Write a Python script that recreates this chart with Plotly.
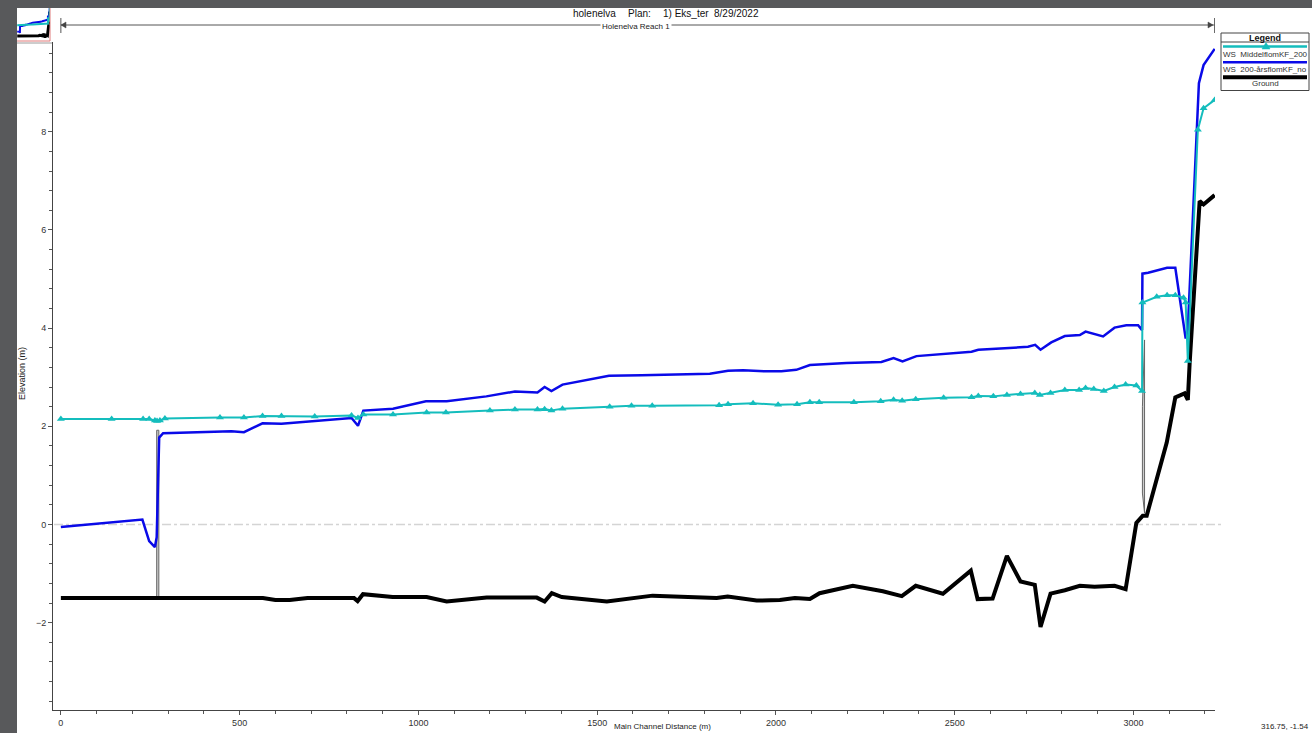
import plotly.graph_objects as go

W, H = 1312, 733


def px(x):
    return x / W


def py(y):
    return 1 - y / H


# ---------------- data ----------------
ws_mid_x = [0, 142, 230, 247, 263, 269, 277, 291, 445, 512, 564, 617, 710, 813, 831, 846,
            929, 1023, 1077, 1200, 1270, 1333, 1353, 1372, 1403, 1535, 1596, 1654, 1841,
            1866, 1936, 2006, 2059, 2095, 2121, 2218, 2293, 2329, 2353, 2391, 2469, 2547,
            2566, 2608, 2646, 2684, 2724, 2738, 2768, 2808, 2848, 2866, 2889, 2917, 2947,
            2978, 3008, 3024, 3025, 3065, 3094, 3117, 3140, 3146, 3152, 3180, 3196, 3227]
ws_mid_y = [2.15, 2.15, 2.15, 2.15, 2.12, 2.11, 2.12, 2.16, 2.18, 2.18, 2.21, 2.21, 2.20,
            2.22, 2.17, 2.24, 2.24, 2.28, 2.28, 2.32, 2.34, 2.34, 2.35, 2.32, 2.36, 2.40,
            2.42, 2.42, 2.43, 2.45, 2.47, 2.44, 2.45, 2.49, 2.49, 2.49, 2.51, 2.54, 2.52,
            2.55, 2.58, 2.59, 2.62, 2.61, 2.64, 2.66, 2.68, 2.64, 2.68, 2.74, 2.74, 2.78,
            2.76, 2.72, 2.80, 2.85, 2.83, 2.72, 4.52, 4.64, 4.67, 4.67, 4.62, 4.52, 3.33,
            8.04, 8.48, 8.65]

ws_200_x = [0, 228, 247, 263, 268, 275, 286, 477, 512, 564, 617, 813, 831, 846, 929, 1021,
            1079, 1190, 1270, 1333, 1353, 1372, 1403, 1533, 1624, 1815, 1866, 1908, 1973,
            2015, 2057, 2095, 2197, 2295, 2329, 2354, 2393, 2467, 2547, 2566, 2645, 2705,
            2725, 2740, 2770, 2808, 2850, 2866, 2915, 2947, 2980, 3013, 3024, 3025, 3041,
            3073, 3094, 3117, 3146, 3152, 3183, 3196, 3227]
ws_200_y = [-0.05, 0.10, -0.34, -0.46, -0.26, 1.77, 1.86, 1.90, 1.88, 2.06, 2.05, 2.17,
            2.01, 2.32, 2.36, 2.51, 2.51, 2.61, 2.71, 2.69, 2.80, 2.72, 2.85, 3.03, 3.04,
            3.07, 3.13, 3.14, 3.12, 3.12, 3.15, 3.25, 3.29, 3.31, 3.39, 3.32, 3.43, 3.48,
            3.52, 3.56, 3.60, 3.62, 3.66, 3.56, 3.71, 3.84, 3.86, 3.93, 3.83, 4.01, 4.06,
            4.06, 3.96, 5.11, 5.13, 5.20, 5.23, 5.23, 3.79, 3.98, 8.99, 9.36, 9.69]

ground_x = [0, 565, 600, 640, 690, 780, 820, 830, 845, 928, 1023, 1079, 1191, 1331, 1353,
            1373, 1401, 1527, 1655, 1834, 1865, 1946, 2011, 2053, 2095, 2122, 2215, 2299,
            2352, 2391, 2467, 2545, 2564, 2606, 2646, 2684, 2724, 2740, 2768, 2808, 2850,
            2891, 2947, 2978, 3008, 3026, 3037, 3093, 3117, 3143, 3152, 3157, 3185, 3196,
            3227]
ground_y = [-1.50, -1.50, -1.54, -1.54, -1.50, -1.50, -1.50, -1.56, -1.42, -1.48, -1.48,
            -1.57, -1.49, -1.49, -1.57, -1.40, -1.48, -1.57, -1.45, -1.50, -1.47, -1.55,
            -1.54, -1.50, -1.52, -1.40, -1.25, -1.36, -1.46, -1.25, -1.41, -0.94, -1.52,
            -1.51, -0.64, -1.16, -1.23, -2.09, -1.41, -1.34, -1.25, -1.27, -1.25, -1.32,
            0.03, 0.18, 0.18, 1.67, 2.59, 2.67, 2.54, 3.27, 6.59, 6.52, 6.71]

# structures (bridge / culvert outlines)
struct1_x = [268, 274, 274, 268, 268]
struct1_y = [-1.50, -1.50, 1.92, 1.92, -1.50]
struct2_x = [3025, 3031, 3031, 3025, 3025]
struct2_y = [0.64, 0.23, 3.76, 2.40, 0.64]

x_ticks = [0, 500, 1000, 1500, 2000, 2500, 3000]
y_ticks = [-2, 0, 2, 4, 6, 8]

series_names = ["WS  MiddelflomKF_200", "WS  200-årsflomKF_no", "Ground"]
CYAN = "#14bdbd"
BLUE = "#0a0ae8"
BLACK = "#000000"

# ---------------- figure ----------------
fig = go.Figure()

for sx, sy in [(struct1_x, struct1_y), (struct2_x, struct2_y)]:
    fig.add_trace(go.Scatter(x=sx, y=sy, mode="lines", fill="toself",
                             fillcolor="rgba(170,170,170,0.6)",
                             line=dict(color="#666666", width=1),
                             showlegend=False, hoverinfo="skip"))

fig.add_trace(go.Scatter(x=ground_x, y=ground_y, mode="lines", name=series_names[2],
                         line=dict(color=BLACK, width=4), showlegend=False))
fig.add_trace(go.Scatter(x=ws_200_x, y=ws_200_y, mode="lines", name=series_names[1],
                         line=dict(color=BLUE, width=2.5), showlegend=False))
fig.add_trace(go.Scatter(x=ws_mid_x, y=ws_mid_y, mode="lines+markers", name=series_names[0],
                         line=dict(color=CYAN, width=2),
                         marker=dict(symbol="triangle-up", size=7, color=CYAN),
                         showlegend=False))

# thumbnail overview (top-left)
fig.add_trace(go.Scatter(x=ground_x, y=ground_y, mode="lines", xaxis="x2", yaxis="y2",
                         line=dict(color=BLACK, width=3), showlegend=False, hoverinfo="skip"))
fig.add_trace(go.Scatter(x=ws_200_x, y=ws_200_y, mode="lines", xaxis="x2", yaxis="y2",
                         line=dict(color=BLUE, width=2), showlegend=False, hoverinfo="skip"))
fig.add_trace(go.Scatter(x=ws_mid_x, y=ws_mid_y, mode="lines", xaxis="x2", yaxis="y2",
                         line=dict(color=CYAN, width=2), showlegend=False, hoverinfo="skip"))

tickfont = dict(family="Arial", size=9, color="#333333")

fig.update_layout(
    width=W, height=H,
    margin=dict(l=0, r=0, t=0, b=0),
    paper_bgcolor="white", plot_bgcolor="white",
    showlegend=False,
    xaxis=dict(domain=[px(53), px(1215)], range=[-22, 3228],
               tickvals=x_ticks, ticks="outside", ticklen=4, tickcolor="#555",
               minor=dict(dtick=100, tick0=0, ticks="outside", ticklen=3, tickcolor="#555"),
               showline=True, linecolor="#444", linewidth=1,
               showgrid=False, zeroline=False, tickfont=tickfont, anchor="y"),
    yaxis=dict(domain=[py(710), py(42)], range=[-3.78, 9.83],
               tickvals=y_ticks, ticks="outside", ticklen=4, tickcolor="#555",
               minor=dict(dtick=0.4, tick0=0, ticks="outside", ticklen=3, tickcolor="#555"),
               showline=True, linecolor="#444", linewidth=1,
               showgrid=False, zeroline=False, tickfont=tickfont, anchor="x"),
    xaxis2=dict(domain=[px(17), px(50)], range=[-22, 3228], visible=False,
                anchor="y2", fixedrange=True),
    yaxis2=dict(domain=[py(41), py(8)], range=[-3.2, 8.0], visible=False,
                anchor="x2", fixedrange=True),
)

shapes = []
# dark grey window frame strips
shapes.append(dict(type="rect", xref="paper", yref="paper", x0=0, x1=px(17), y0=0, y1=1,
                   fillcolor="#58595b", line=dict(width=0), layer="above"))
shapes.append(dict(type="rect", xref="paper", yref="paper", x0=0, x1=1, y0=py(8), y1=1,
                   fillcolor="#58595b", line=dict(width=0), layer="above"))
# thumbnail frame
shapes.append(dict(type="line", xref="paper", yref="paper", x0=px(17), x1=px(50),
                   y0=py(41), y1=py(41), line=dict(color="#e07a7a", width=1), layer="above"))
shapes.append(dict(type="line", xref="paper", yref="paper", x0=px(50), x1=px(50),
                   y0=py(41), y1=py(8), line=dict(color="#e07a7a", width=1), layer="above"))
shapes.append(dict(type="line", xref="paper", yref="paper", x0=px(17), x1=px(52),
                   y0=py(43), y1=py(43), line=dict(color="#9a9a9a", width=1), layer="above"))
# dashed zero reference line
shapes.append(dict(type="line", xref="paper", yref="y", x0=px(54), x1=px(1222), y0=0, y1=0,
                   line=dict(color="#d4d4d4", width=1.5, dash="dashdot"), layer="below"))
# reach line with end markers
reach_y = py(25)
shapes.append(dict(type="line", xref="x", yref="paper", x0=0, x1=max(ground_x),
                   y0=reach_y, y1=reach_y, line=dict(color="#555555", width=1)))
for xe in (0, max(ground_x)):
    shapes.append(dict(type="line", xref="x", yref="paper", x0=xe, x1=xe,
                       y0=py(18), y1=py(33), line=dict(color="#555555", width=1)))
# arrowheads
ah_l = px(61)
ah_r = px(1213)
shapes.append(dict(type="path", xref="paper", yref="paper",
                   path=f"M {ah_l} {reach_y} L {ah_l + px(5)} {reach_y + 3 / H} L {ah_l + px(5)} {reach_y - 3 / H} Z",
                   fillcolor="#444444", line=dict(color="#444444", width=0.5)))
shapes.append(dict(type="path", xref="paper", yref="paper",
                   path=f"M {ah_r} {reach_y} L {ah_r - px(5)} {reach_y + 3 / H} L {ah_r - px(5)} {reach_y - 3 / H} Z",
                   fillcolor="#444444", line=dict(color="#444444", width=0.5)))

# legend box
shapes.append(dict(type="rect", xref="paper", yref="paper", x0=px(1221), x1=px(1309),
                   y0=py(90.5), y1=py(33), fillcolor="white",
                   line=dict(color="#444444", width=1)))
shapes.append(dict(type="line", xref="paper", yref="paper", x0=px(1221), x1=px(1309),
                   y0=py(42), y1=py(42), line=dict(color="#444444", width=1)))
legend_lines = [(46.5, CYAN, 2.5), (62.3, BLUE, 2.5), (77.3, BLACK, 4)]
for yy, col, wd in legend_lines:
    shapes.append(dict(type="line", xref="paper", yref="paper", x0=px(1223), x1=px(1307),
                       y0=py(yy), y1=py(yy), line=dict(color=col, width=wd)))
# legend marker triangle
tx, ty = 1266, 46.5
shapes.append(dict(type="path", xref="paper", yref="paper",
                   path=f"M {px(tx)} {py(ty - 4)} L {px(tx + 4)} {py(ty + 2.5)} L {px(tx - 4)} {py(ty + 2.5)} Z",
                   fillcolor=CYAN, line=dict(color=CYAN, width=0.5)))

fig.update_layout(shapes=shapes)

ann = []
small = dict(family="Arial", size=9, color="#222222")
# title pieces
for txt, xl in [("holenelva", 571), ("Plan:", 626), ("1) Eks_ter", 661), ("8/29/2022", 712)]:
    ann.append(dict(text=txt, xref="paper", yref="paper", x=px(xl), y=py(14),
                    xanchor="left", yanchor="middle", showarrow=False,
                    font=dict(family="Arial", size=10, color="#111111")))
ann.append(dict(text="Holenelva Reach 1", xref="paper", yref="paper", x=px(636), y=py(27),
                xanchor="center", yanchor="middle", showarrow=False, bgcolor="white",
                font=dict(family="Arial", size=8, color="#222222")))
ann.append(dict(text="Elevation (m)", xref="paper", yref="paper", x=px(22), y=py(374),
                xanchor="center", yanchor="middle", showarrow=False, textangle=-90,
                font=small))
ann.append(dict(text="Main Channel Distance (m)", xref="paper", yref="paper", x=px(612),
                y=py(733), xanchor="left", yanchor="bottom", showarrow=False,
                font=dict(family="Arial", size=8, color="#222222")))
ann.append(dict(text="316.75, -1.54", xref="paper", yref="paper", x=px(1311),
                y=py(733), xanchor="right", yanchor="bottom", showarrow=False,
                font=dict(family="Arial", size=8, color="#222222")))
# legend texts
ann.append(dict(text="<b>Legend</b>", xref="paper", yref="paper", x=px(1265), y=py(37.5),
                xanchor="center", yanchor="middle", showarrow=False,
                font=dict(family="Arial", size=9, color="#111111")))
for txt, yy in [(series_names[0], 54.3), (series_names[1], 69.5), (series_names[2], 84)]:
    ann.append(dict(text=txt, xref="paper", yref="paper", x=px(1265), y=py(yy),
                    xanchor="center", yanchor="middle", showarrow=False,
                    font=dict(family="Arial", size=8, color="#333333")))

fig.update_layout(annotations=ann)

fig.write_html("out.html", config={"displayModeBar": False},
               post_script="document.body.style.margin='0';document.body.style.overflow='hidden';")
